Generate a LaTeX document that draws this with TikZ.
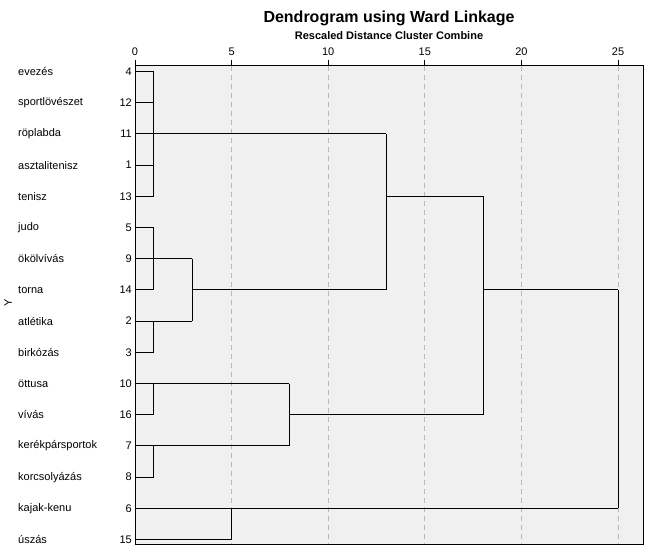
\documentclass[tikz,border=0pt]{standalone}
\usepackage{fontspec}
\setmainfont{Liberation Sans}
\begin{document}
\begin{tikzpicture}[x=1pt,y=-1pt,
  lab/.style={anchor=west,inner sep=0pt,font=\fontsize{11}{13}\selectfont},
  num/.style={anchor=east,inner sep=0pt,font=\fontsize{11}{13}\selectfont},
  tick/.style={anchor=south,inner sep=0pt,font=\fontsize{11}{13}\selectfont},
  dline/.style={black,line width=1pt},
  grid/.style={gray!55,line width=0.8pt,dash pattern=on 5pt off 4pt}]
\useasboundingbox (0,0) rectangle (651,551);
\fill[white] (0,0) rectangle (651,551);
% plot area
\coordinate (bx1) at (135,66);
\coordinate (bx2) at (643,544);
\fill[black!6] (bx1) rectangle (bx2);
% grid + ticks
\foreach \v in {0,5,10,15,20,25}{
  \coordinate (g\v) at ({135+19.32*\v},66);
  \coordinate (gb\v) at ({135+19.32*\v},544);
  \coordinate (gt\v) at ({135+19.32*\v},60);
  \node[tick] (tk\v) at ({135+19.32*\v},56) {\v};
  \draw[black,line width=0.9pt] (gt\v) -- (g\v);
}
\foreach \v in {5,10,15,20,25}{ \draw[grid] (g\v) -- (gb\v); }
% titles
\node[inner sep=0pt,font=\fontsize{16}{19}\selectfont\bfseries] (title) at (389,18) {Dendrogram using Ward Linkage};
\node[inner sep=0pt,font=\fontsize{11}{13}\selectfont\bfseries] (sub) at (389,36) {Rescaled Distance Cluster Combine};
\node[inner sep=0pt,rotate=90,font=\fontsize{11}{13}\selectfont] (yl) at (8,303) {Y};
% leaves
\foreach \i/\n/\t in {0/4/evezés,1/12/sportlövészet,2/11/röplabda,3/1/asztalitenisz,4/13/tenisz,5/5/judo,6/9/ökölvívás,7/14/torna,8/2/atlétika,9/3/birkózás,10/10/öttusa,11/16/vívás,12/7/kerékpársportok,13/8/korcsolyázás,14/6/kajak-kenu,15/15/úszás}{
  \node[lab] (t\i) at (18,{71.5+31.2*\i}) {\t};
  \node[num] (n\i) at (132,{71.5+31.2*\i}) {\n};
  \coordinate (L\i) at (135,{71.5+31.2*\i});
}
% merge columns
\coordinate (c1) at (153,0);
\coordinate (c3) at (192,0);
\coordinate (c5) at (231,0);
\coordinate (c8) at (289,0);
\coordinate (c13) at (386,0);
\coordinate (c18) at (483,0);
\coordinate (c25) at (618,0);
% cluster A
\draw[dline] (L0) -- (L0 -| c1) -- (L4 -| c1) -- (L4);
\draw[dline] (L1) -- (L1 -| c1);
\draw[dline] (L3) -- (L3 -| c1);
\draw[dline] (L2) -- (L2 -| c13);
% cluster B, C
\draw[dline] (L5) -- (L5 -| c1) -- (L7 -| c1) -- (L7);
\draw[dline] (L6) -- (L6 -| c3);
\draw[dline] (L8) -- (L8 -| c3);
\draw[dline] (L8 -| c1) -- (L9 -| c1) -- (L9);
\draw[dline] (L6 -| c3) -- (L8 -| c3);
\draw[dline] (L7 -| c3) -- (L7 -| c13);
\draw[dline] (L2 -| c13) -- (L7 -| c13);
\draw[dline] (L4 -| c13) -- (L4 -| c18);
% cluster D, E
\draw[dline] (L10) -- (L10 -| c8);
\draw[dline] (L10 -| c1) -- (L11 -| c1) -- (L11);
\draw[dline] (L12) -- (L12 -| c8);
\draw[dline] (L12 -| c1) -- (L13 -| c1) -- (L13);
\draw[dline] (L10 -| c8) -- (L12 -| c8);
\draw[dline] (L11 -| c8) -- (L11 -| c18);
\draw[dline] (L4 -| c18) -- (L11 -| c18);
\draw[dline] (L7 -| c18) -- (L7 -| c25);
% cluster F
\draw[dline] (L14) -- (L14 -| c25);
\draw[dline] (L15) -- (L15 -| c5) -- (L14 -| c5);
\draw[dline] (L7 -| c25) -- (L14 -| c25);
% frame
\draw[black,line width=1pt] (bx1) rectangle (bx2);
\end{tikzpicture}
\end{document}
